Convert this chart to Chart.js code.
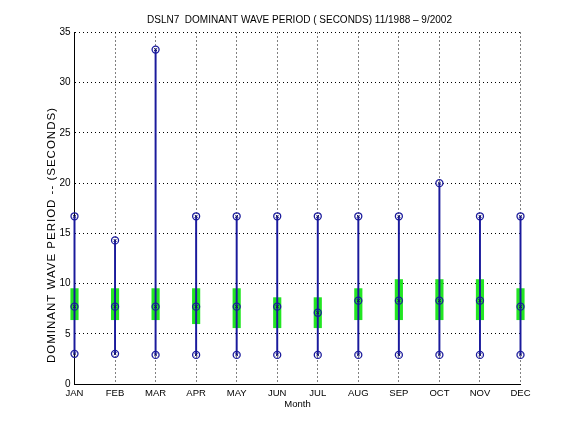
<!DOCTYPE html>
<html>
<head>
<meta charset="utf-8">
<script src="https://cdn.jsdelivr.net/npm/chart.js@4.4.1/dist/chart.umd.min.js"></script>
<style>
  html, body { margin: 0; padding: 0; background: #fff; }
  #wrap { width: 576px; height: 432px; }
</style>
</head>
<body>
<div id="wrap"><canvas id="myChart" width="576" height="432"></canvas></div>
<script>
// Datos (segundos)
const meses = ["JAN", "FEB", "MAR", "APR", "MAY", "JUN", "JUL", "AUG", "SEP", "OCT", "NOV", "DEC"];
const maximos = [16.7, 14.3, 33.3, 16.7, 16.7, 16.7, 16.7, 16.7, 16.7, 20.0, 16.7, 16.7];
const minimos = [3.0, 3.0, 2.9, 2.9, 2.9, 2.9, 2.9, 2.9, 2.9, 2.9, 2.9, 2.9];
const medianas = [7.7, 7.7, 7.7, 7.7, 7.7, 7.7, 7.1, 8.3, 8.3, 8.3, 8.3, 7.7];
const cuartilInf = [6.4, 6.4, 6.4, 6.0, 5.6, 5.6, 5.6, 6.4, 6.4, 6.4, 6.4, 6.4];
const cuartilSup = [9.5, 9.5, 9.5, 9.5, 9.5, 8.6, 8.6, 9.5, 10.4, 10.4, 10.4, 9.5];
const ticksY = [0, 5, 10, 15, 20, 25, 30, 35];

const titulo = "DSLN7  DOMINANT WAVE PERIOD ( SECONDS) 11/1988 \u2013 9/2002";
const tituloEjeY = "DOMINANT WAVE PERIOD -- (SECONDS)";

const azul = "#1a1a9c";
const verde = "#22e622";
const fuente = "'Liberation Sans', Arial, sans-serif";

// Puntos (círculos) para máximo, mínimo y mediana
const circulo = (datos) => ({
  type: "line",
  data: datos,
  showLine: false,
  pointStyle: "circle",
  pointRadius: 3.5,
  pointBorderWidth: 1.3,
  pointBorderColor: azul,
  pointBackgroundColor: "rgba(0,0,0,0)",
  clip: false,
  order: 1,
});
const marcaInterna = (datos) => ({
  type: "line",
  data: datos,
  showLine: false,
  pointStyle: "crossRot",
  pointRadius: 2,
  pointBorderWidth: 1,
  pointBorderColor: "#101060",
  clip: false,
  order: 0,
});

// Título y título del eje Y dibujados a mano (centrados como en MATLAB)
const textos = {
  id: "textos",
  afterDraw(chart) {
    const { ctx, chartArea } = chart;
    ctx.save();
    ctx.fillStyle = "#000";
    // título sobre el área del gráfico
    ctx.font = "10px " + fuente;
    ctx.textAlign = "center";
    ctx.textBaseline = "middle";
    ctx.fillText(titulo, (chartArea.left + chartArea.right) / 2 + 2, 20);
    // título eje Y
    ctx.font = "11.5px " + fuente;
    if ("letterSpacing" in ctx) ctx.letterSpacing = "1px";
    ctx.translate(52, chartArea.bottom - 21);
    ctx.rotate(-Math.PI / 2);
    ctx.textAlign = "left";
    ctx.fillText(tituloEjeY, 0, 0);
    ctx.restore();
  },
};

const ctx = document.getElementById("myChart");

new Chart(ctx, {
  type: "bar",
  data: {
    labels: meses,
    datasets: [
      circulo(maximos),
      circulo(minimos),
      circulo(medianas),
      marcaInterna(maximos),
      marcaInterna(minimos),
      marcaInterna(medianas),
      {
        // línea de mínimo a máximo
        type: "bar",
        data: meses.map((m, i) => [minimos[i], maximos[i]]),
        backgroundColor: azul,
        barThickness: 1.3,
        grouped: false,
        clip: false,
        order: 2,
      },
      {
        // caja de cuartiles
        type: "bar",
        data: meses.map((m, i) => [cuartilInf[i], cuartilSup[i]]),
        backgroundColor: verde,
        barThickness: 7.5,
        grouped: false,
        clip: false,
        order: 3,
      },
    ],
  },
  options: {
    responsive: false,
    animation: false,
    devicePixelRatio: 1,
    layout: { padding: { left: 0, right: 55.5, top: 32.5, bottom: 0 } },
    plugins: {
      legend: { display: false },
      tooltip: { enabled: false },
      title: { display: false },
    },
    scales: {
      x: {
        type: "category",
        offset: false,
        grid: { offset: false, color: "#000", lineWidth: 1, drawTicks: false },
        border: { display: true, color: "#000", width: 1, dash: [1, 3] },
        ticks: { color: "#000", font: { family: fuente, size: 9.5 }, padding: 4, maxRotation: 0, autoSkip: false },
        title: {
          display: true,
          text: "Month",
          color: "#000",
          font: { family: fuente, size: 9.5 },
          padding: { top: 0, bottom: 22 },
        },
        afterFit: (eje) => { eje.height = 48; },
      },
      y: {
        min: 0,
        max: 35,
        afterBuildTicks: (eje) => { eje.ticks = ticksY.map((v) => ({ value: v })); },
        grid: { color: "#000", lineWidth: 1, drawTicks: false },
        border: { display: true, color: "#000", width: 1, dash: [1, 3] },
        ticks: { color: "#000", font: { family: fuente, size: 10 }, padding: 4 },
        afterFit: (eje) => { eje.width = 74.5; },
      },
    },
  },
  plugins: [textos],
});
</script>
</body>
</html>
